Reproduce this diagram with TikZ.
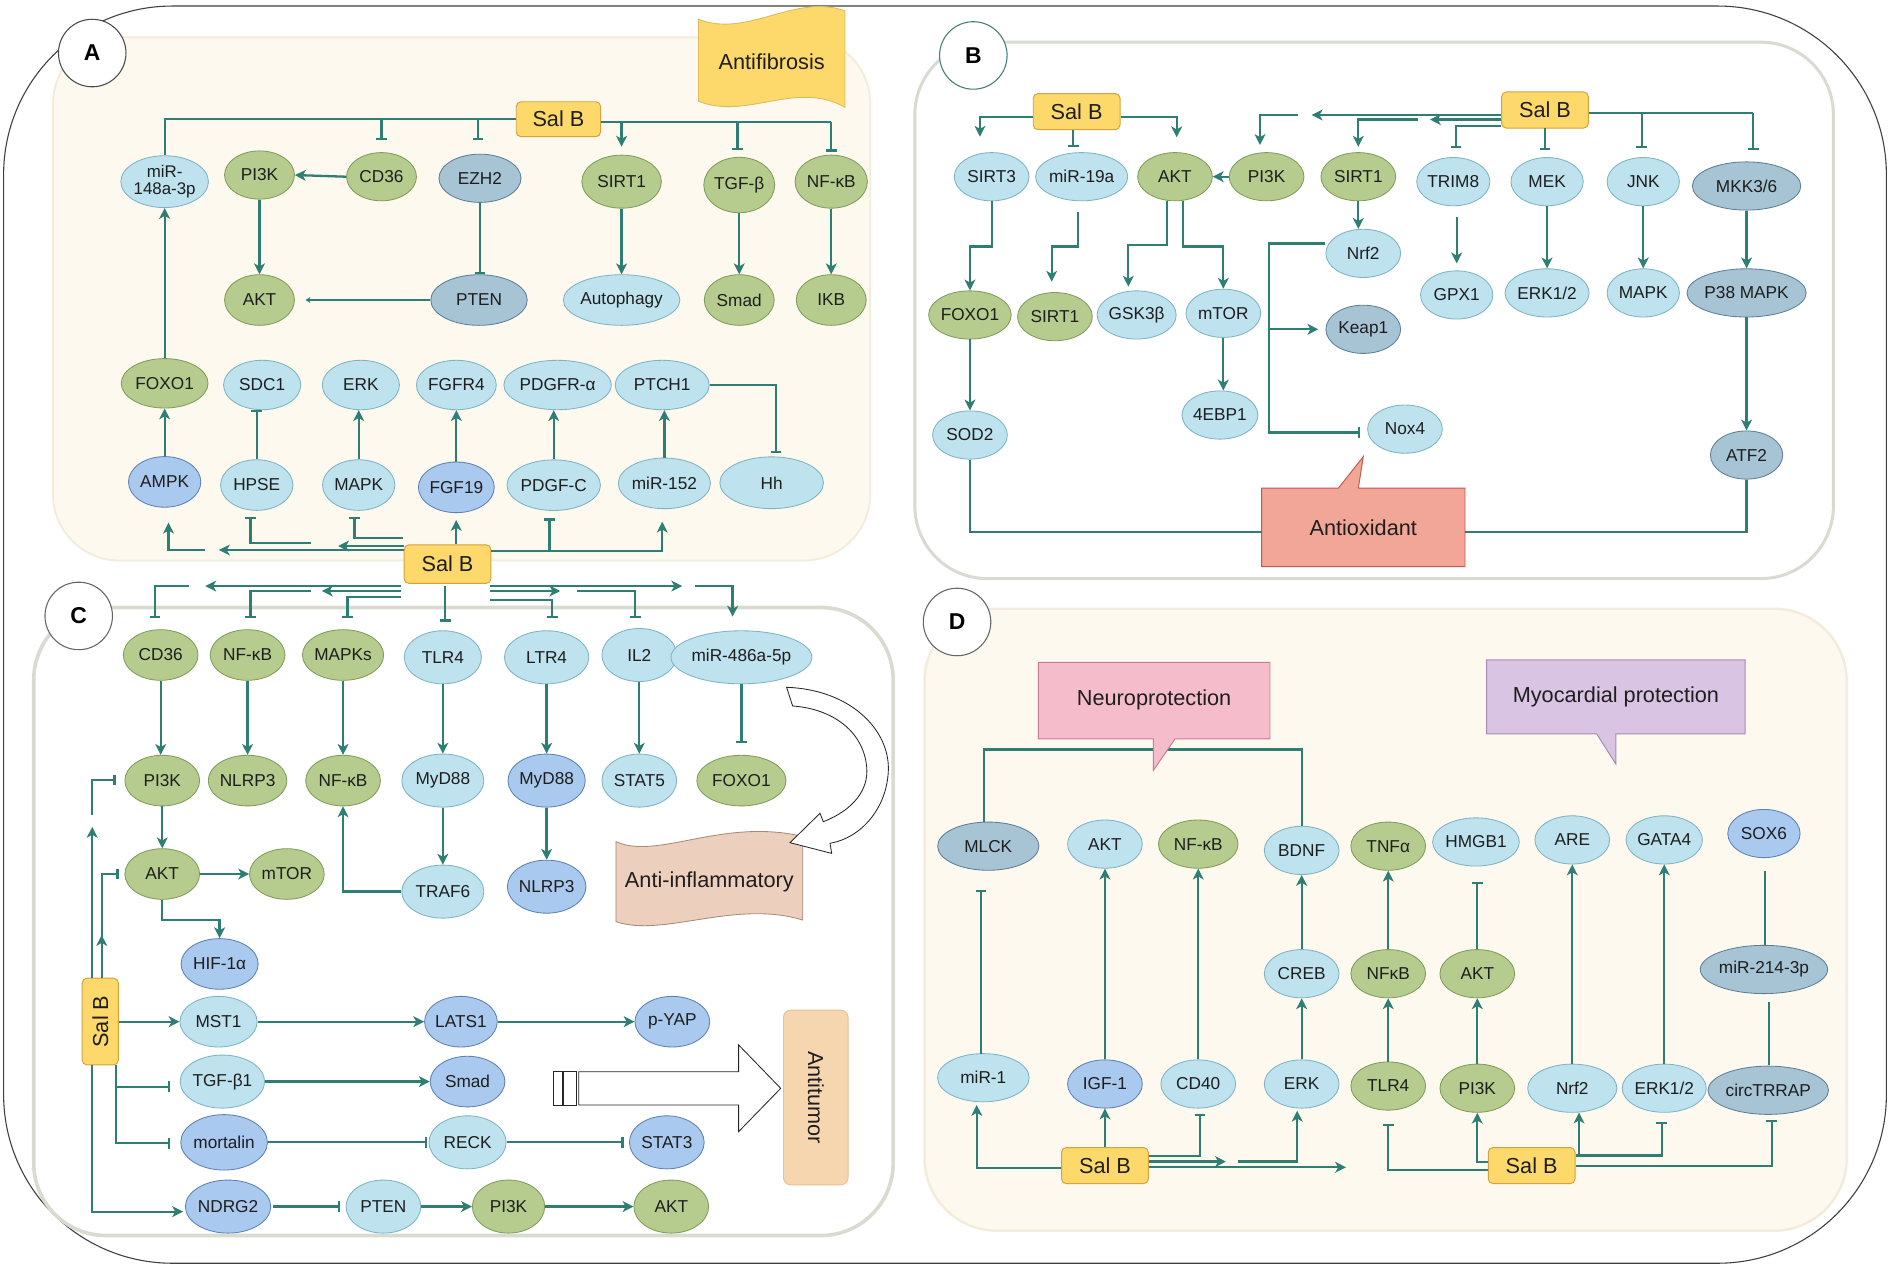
\documentclass[tikz,border=0pt]{standalone}
\usepackage{fontspec}
\setmainfont{Liberation Sans}
\usetikzlibrary{arrows.meta,shapes.geometric}
\definecolor{grF}{HTML}{B5CC8E}
\definecolor{grD}{HTML}{7F9C58}
\definecolor{lbF}{HTML}{BEE2EE}
\definecolor{lbD}{HTML}{7EB3C3}
\definecolor{mbF}{HTML}{AAC9EE}
\definecolor{mbD}{HTML}{5D80B6}
\definecolor{sbF}{HTML}{A7C4D5}
\definecolor{sbD}{HTML}{5E7E97}
\definecolor{lnC}{HTML}{2E7E74}
\definecolor{salF}{HTML}{FDD96B}
\definecolor{salD}{HTML}{D6A13E}
\definecolor{panF}{HTML}{FDF9EF}
\definecolor{panD}{HTML}{F3EBDC}
\definecolor{panG}{HTML}{D8DCD0}
\definecolor{txC}{HTML}{1E1E1E}
\definecolor{oxF}{HTML}{F2A698}
\definecolor{oxD}{HTML}{C2594E}
\definecolor{neF}{HTML}{F5BCCB}
\definecolor{neD}{HTML}{C97B96}
\definecolor{myF}{HTML}{DAC4E3}
\definecolor{myD}{HTML}{A48BB6}
\definecolor{inF}{HTML}{EDCFBD}
\definecolor{inD}{HTML}{A68B7B}
\definecolor{tuF}{HTML}{F6D6AE}
\definecolor{tuD}{HTML}{E5C095}
\definecolor{fiF}{HTML}{FDD96B}
\definecolor{fiD}{HTML}{DDB95A}
\newcommand{\ndf}{\fontsize{14.3}{15}\selectfont}
\newcommand{\bgf}{\fontsize{18}{20}\selectfont}
\begin{document}
\begin{tikzpicture}[x=1pt,y=-1pt,
  nd/.style={ellipse, draw, line width=0.7pt, inner sep=0pt, font=\ndf, text=txC},
  sz/.style 2 args={minimum width={2*#1}, minimum height={2*#2}},
  gr/.style={nd, fill=grF, draw=grD},
  lb/.style={nd, fill=lbF, draw=lbD},
  mb/.style={nd, fill=mbF, draw=mbD},
  sb/.style={nd, fill=sbF, draw=sbD},
  salb/.style={draw=salD, fill=salF, rounded corners=4pt, line width=0.8pt, font=\bgf, text=txC, minimum width=72pt, minimum height=30pt, inner sep=0pt},
  ln/.style={draw=lnC, line width=1.9pt},
  ar/.style={ln, -{Stealth[length=9pt,width=9pt,inset=2.5pt]}},
  tb/.style={ln, -{Bar[width=9pt]}},
  lab/.style={circle, draw=#1, fill=white, line width=0.9pt, minimum size=56pt, inner sep=0pt, font=\fontsize{19}{21}\selectfont\bfseries},
  eff/.style={font=\bgf, text=txC, inner sep=0pt},
]
\useasboundingbox (0,0) rectangle (1568,1053);
\fill[white] (0,0) rectangle (1568,1053);
% outer frame
\draw[draw=black!75, line width=0.9pt, rounded corners=140pt] (3,5) rectangle (1565,1048);
% panels
\draw[fill=panF, draw=panD, line width=1.5pt, rounded corners=55pt] (44,31) rectangle (722,465);
\draw[fill=white, draw=panG, line width=2.5pt, rounded corners=60pt] (759,35) rectangle (1521,480);
\draw[fill=white, draw=panG, line width=3pt, rounded corners=60pt] (28,504) rectangle (741,1025);
\draw[fill=panF, draw=panD, line width=2pt, rounded corners=60pt] (767,505) rectangle (1532,1021);
% labels
\node[lab=black!70] (labA) at (76.5,44) {A};
\node[lab=lnC!70!gray] (labB) at (807.5,46) {B};
\node[lab=black!60] (labC) at (65.3,511) {C};
\node[lab=black!60] (labD) at (794,516) {D};

%%%%%%%%%%%%%%%% PANEL A
\draw[fill=fiF, draw=fiD, line width=0.7pt] (579.5,16) .. controls (620,32) and (660,-6) .. (701,9) -- (701,89) .. controls (660,66) and (620,100) .. (579.5,84) -- cycle;
\node[eff] (fib) at (640.2,51) {Antifibrosis};
\node[salb, minimum width=70pt, minimum height=29pt] (a_sal) at (463.3,98.9) {Sal B};
\node[lb, sz={36}{21.5}, align=center, font=\fontsize{14}{14}\selectfont] (a_mir148) at (136.6,150.7) {miR-\\148a-3p};
\node[gr, sz={29}{20}] (a_pi3k) at (215.3,145.2) {PI3K};
\node[gr, sz={29}{20}] (a_cd36) at (316.5,146.6) {CD36};
\node[sb, sz={34}{20}] (a_ezh2) at (398.2,147.9) {EZH2};
\node[gr, sz={33}{22}] (a_sirt1) at (515.7,150.7) {SIRT1};
\node[gr, sz={29}{23}] (a_tgfb) at (613.3,153.5) {TGF-β};
\node[gr, sz={30}{22}] (a_nfkb) at (689.6,150.7) {NF-κB};
\node[gr, sz={29}{21}] (a_akt) at (215.3,248.9) {AKT};
\node[sb, sz={40}{21}] (a_pten) at (397.4,248.9) {PTEN};
\node[lb, sz={46}{21}] (a_auto) at (515.7,248.9) {Autophagy};
\node[gr, sz={29}{21}] (a_smad) at (613.3,248.9) {Smad};
\node[gr, sz={29}{21}] (a_ikb) at (689.6,248.9) {IKB};
\node[gr, sz={36}{20.5}] (a_foxo) at (136.6,318) {FOXO1};
\node[lb, sz={32}{20.5}] (a_sdc1) at (217.5,319.4) {SDC1};
\node[lb, sz={32}{20.5}] (a_erk) at (299.4,319.4) {ERK};
\node[lb, sz={32}{20.5}] (a_fgfr4) at (378.6,319.4) {FGFR4};
\node[lb, sz={39}{20.5}] (a_pdgfra) at (462.6,319.4) {PDGFR-α};
\node[lb, sz={39}{20.5}] (a_ptch1) at (549.4,319.4) {PTCH1};
\node[mb, sz={30}{21}] (a_ampk) at (136.6,399.8) {AMPK};
\node[lb, sz={30}{21}] (a_hpse) at (213,402.4) {HPSE};
\node[lb, sz={30}{21}] (a_mapk) at (297.6,402.4) {MAPK};
\node[mb, sz={31}{21}] (a_fgf19) at (378.6,404.3) {FGF19};
\node[lb, sz={35}{21}] (a_pdgfc) at (459.4,402.5) {PDGF-C};
\node[lb, sz={38}{21}] (a_mir152) at (551.2,401) {miR-152};
\node[lb, sz={43}{21.5}] (a_hh) at (640.2,400.5) {Hh};
% A top connectors
\draw[ln] (a_sal.west) -| (a_mir148.north);
\draw[tb] (316.5,98.9) -- (316.5,116.1);
\draw[tb] (396.5,98.9) -- (396.5,116.1);
\draw[ln] (498.4,101) -- (689.6,101);
\draw[ar] (515.7,101) -- (515.7,121.7);
\draw[tb] (611.9,101) -- (611.9,124.4);
\draw[tb] (689.6,101) -- (689.6,125.8);
\draw[ar] (a_pi3k.south) -- (a_akt.north);
\draw[ar] (a_cd36.west) -- (a_pi3k.east);
\draw[tb] (a_ezh2.south) -- (a_ezh2.south |- a_pten.north);
\draw[ln, -{Stealth[length=4pt,width=5pt]}] (a_pten.west) -- (253.5,248.9);
\draw[ar] (a_sirt1.south) -- (a_auto.north);
\draw[ar] (a_tgfb.south) -- (a_smad.north);
\draw[ar] (a_nfkb.south) -- (a_ikb.north);
\draw[ar] (a_foxo.north) -- (a_mir148.south);
\draw[ar] (a_ampk.north) -- (a_foxo.south);
\draw[tb] (a_hpse.north) -- (a_hpse.north |- a_sdc1.south);
\draw[ar] (a_mapk.north) -- (a_mapk.north |- a_erk.south);
\draw[ar] (a_fgf19.north) -- (a_fgf19.north |- a_fgfr4.south);
\draw[ar] (a_pdgfc.north) -- (a_pdgfc.north |- a_pdgfra.south);
\draw[ar] (a_mir152.north) -- (a_mir152.north |- a_ptch1.south);
\draw[tb] (a_ptch1.east) -- (643.8,319.4) -- (643.8,376);

%%%%%%%%%%%%%%%% central Sal B (A / C)
\node[salb, minimum width=72pt, minimum height=32pt] (ac_sal) at (371.3,468) {Sal B};
\draw[ar] (335.3,456.3) -- (181.6,456.3);
\draw[ar] (170.3,456.3) -- (139.8,456.3) -- (139.8,433.6);
\draw[tb] (258,450.7) -- (207.7,450.7) -- (207.7,428.6);
\draw[tb] (334.4,446.6) -- (294,446.6) -- (294,428.6);
\draw[ar] (335.3,453) -- (280.5,453);
\draw[ar] (ac_sal.north -| 378.5,0) -- (378.5,431.4);
\draw[tb] (455.9,457) -- (455.9,430);
\draw[ar] (407.3,457) -- (549.4,457) -- (549.4,432.8);
% towards C
\draw[ar] (333,486.2) -- (170.3,486.2);
\draw[tb] (156.8,486.2) -- (128.6,486.2) -- (128.6,513);
\draw[ar] (333,490.3) -- (267,490.3);
\draw[tb] (258,490.3) -- (207.8,490.3) -- (207.8,513);
\draw[tb] (333,495) -- (288.3,495) -- (288.3,513);
\draw[tb] (369.4,486) -- (369.4,515.7);
\draw[ar] (406.4,486.2) -- (566,486.2);
\draw[ar] (576.6,486.2) -- (607.8,486.2) -- (607.8,511.6);
\draw[ar] (406.4,490.3) -- (464.8,490.3);
\draw[tb] (478.4,490.3) -- (526.9,490.3) -- (526.9,513);
\draw[tb] (406.4,497.5) -- (458.1,497.5) -- (458.1,513);

%%%%%%%%%%%%%%%% PANEL C
\node[gr, sz={31}{21}] (c_cd36) at (133.3,543.4) {CD36};
\node[gr, sz={31}{21}] (c_nfkb) at (205.4,543.4) {NF-κB};
\node[gr, sz={32}{21}] (c_mapks) at (284.6,543.4) {MAPKs};
\node[lb, sz={32}{22}] (c_tlr4) at (367.4,545.3) {TLR4};
\node[lb, sz={35}{22}] (c_ltr4) at (453.5,545.3) {LTR4};
\node[lb, sz={31}{22}] (c_il2) at (530.4,543.4) {IL2};
\node[lb, sz={47}{22}] (c_mir486) at (615.1,545.3) {miR-486a-5p};
\node[gr, sz={31}{21}] (c_pi3k) at (134.6,647.6) {PI3K};
\node[gr, sz={31}{21}] (c_nlrp3) at (205.4,647.6) {NLRP3};
\node[gr, sz={31}{21}] (c_nfkb2) at (284.6,647.6) {NF-κB};
\node[lb, sz={34}{22}] (c_myd88) at (367.4,647.6) {MyD88};
\node[mb, sz={32}{22}] (c_myd88b) at (453.5,647.6) {MyD88};
\node[lb, sz={31}{22}] (c_stat5) at (530.4,647.6) {STAT5};
\node[gr, sz={37}{21}] (c_foxo) at (615.1,647.6) {FOXO1};
\node[gr, sz={31}{21}] (c_akt) at (134.6,725.1) {AKT};
\node[gr, sz={31}{21}] (c_mtor) at (238,725.1) {mTOR};
\node[lb, sz={34}{22}] (c_traf6) at (367.4,739.7) {TRAF6};
\node[mb, sz={31}{22}] (c_nlrp3b) at (453.5,735.6) {NLRP3};
\node[mb, sz={32}{21}] (c_hif) at (182.2,799.7) {HIF-1α};
\node[lb, sz={32}{21}] (c_mst1) at (181.3,847.6) {MST1};
\node[mb, sz={30}{21}] (c_lats1) at (382.4,847.6) {LATS1};
\node[mb, sz={31}{21}] (c_pyap) at (557.8,847.6) {p-YAP};
\node[lb, sz={32}{22}] (c_tgfb1) at (184.5,897.3) {TGF-β1};
\node[mb, sz={31}{21}] (c_smad) at (387.9,897.3) {Smad};
\node[mb, sz={34}{23}] (c_mort) at (185.9,947.7) {mortalin};
\node[lb, sz={32}{22}] (c_reck) at (387.9,947.7) {RECK};
\node[mb, sz={31}{22}] (c_stat3) at (553.2,947.7) {STAT3};
\node[mb, sz={30}{22}] (c_ndrg2) at (189.2,1001) {NDRG2};
\node[lb, sz={31}{22}] (c_pten) at (318.1,1001) {PTEN};
\node[gr, sz={30}{22}] (c_pi3k2) at (421.9,1001) {PI3K};
\node[gr, sz={31}{22}] (c_akt2) at (556.9,1001) {AKT};
\node[salb, rotate=90, minimum width=72pt, minimum height=30pt] (c_sal) at (83.2,847.5) {Sal B};
% C connectors
\draw[ar] (c_cd36.south) -- (c_cd36.south |- c_pi3k.north);
\draw[ar] (c_nfkb.south) -- (c_nlrp3.north);
\draw[ar] (c_mapks.south) -- (c_nfkb2.north);
\draw[ar] (c_tlr4.south) -- (c_myd88.north);
\draw[ar] (c_ltr4.south) -- (c_myd88b.north);
\draw[ar] (c_il2.south) -- (c_stat5.north);
\draw[tb] (c_mir486.south) -- (615.1,616.6);
\draw[ar] (c_pi3k.south) -- (c_akt.north);
\draw[ar] (c_akt.east) -- (c_mtor.west);
\draw[ar] (c_akt.south) |- (182.2,763.2) -- (c_hif.north);
\draw[ar] (c_myd88.south) -- (c_traf6.north);
\draw[ar] (c_traf6.west) -| (c_nfkb2.south);
\draw[ar] (c_myd88b.south) -- (c_nlrp3b.north);
\draw[ar] (98.4,847.6) -- (c_mst1.west);
\draw[ar] (c_mst1.east) -- (c_lats1.west);
\draw[ar] (c_lats1.east) -- (c_pyap.west);
\draw[tb] (96.1,883.5) |- (141.2,901.5);
\draw[tb] (96.1,883.5) |- (141.2,948.5);
\draw[ar] (76.5,883.5) |- (151.9,1005.2);
\draw[ar] (76.5,811.5) -- (76.5,686);
\draw[tb] (76.5,676) |- (96,647.1);
\draw[ar] (84.4,811.5) -- (84.4,775.7);
\draw[tb] (84.4,790) |- (98.4,725.1);
\draw[ar] (c_tgfb1.east) -- (c_smad.west);
\draw[tb] (c_mort.east) -- (354.4,947.7);
\draw[tb] (c_reck.east) -- (517.4,947.7);
\draw[tb] (226.4,1001) -- (282.2,1001);
\draw[ar] (c_pten.east) -- (c_pi3k2.west);
\draw[ar] (c_pi3k2.east) -- (c_akt2.west);
% anti-inflammatory
\draw[fill=inF, draw=inD, line width=0.7pt] (511,698.2) .. controls (545,714) and (600,678) .. (666,694) -- (666,763.3) .. controls (610,746) and (550,778) .. (511,764.6) -- cycle;
\node[eff] (c_inf) at (588.5,731.5) {Anti-inflammatory};
\draw[fill=white, draw=black!85, line width=0.7pt] (652.6,570.2) .. controls (705,572) and (738,605) .. (737,638.8) .. controls (736,670) and (715,695) .. (688.6,699.6) -- (690,708) -- (655.4,699.1) -- (680.3,674.7) -- (683,681.7) .. controls (708,672) and (721,655) .. (719,636) .. controls (716,606) and (690,588) .. (657.6,585.7) -- cycle;
% antitumor
\draw[fill=white, draw=black!85, line width=0.7pt] (480.1,889.1) -- (612.8,889.1) -- (612.8,866.9) -- (647.7,902.9) -- (612.8,938.8) -- (612.8,916.7) -- (480.1,916.7) -- cycle;
\draw[fill=white, draw=black!85, line width=0.7pt] (459.2,889.1) rectangle (466.2,916.7);
\draw[fill=white, draw=black!85, line width=0.7pt] (467.5,889.1) rectangle (477.8,916.7);
\node[draw=tuD, fill=tuF, rounded corners=6pt, line width=0.7pt, minimum width=145pt, minimum height=53.6pt, rotate=-90, font=\bgf, text=txC] (c_tum) at (676.8,910.5) {Antitumor};

%%%%%%%%%%%%%%%% PANEL B
\node[salb] (b_sal1) at (893.2,92.6) {Sal B};
\node[salb] (b_sal2) at (1281.8,91.3) {Sal B};
\node[lb, sz={31}{20}] (b_sirt3) at (822.7,146.6) {SIRT3};
\node[lb, sz={37}{20}] (b_mir19) at (897.4,146.6) {miR-19a};
\node[gr, sz={31}{20}] (b_akt) at (974.8,146.6) {AKT};
\node[gr, sz={31}{20}] (b_pi3k) at (1050.8,146.6) {PI3K};
\node[gr, sz={31}{20}] (b_sirt1) at (1126.9,146.6) {SIRT1};
\node[lb, sz={31}{20}] (b_nrf2) at (1131,210.2) {Nrf2};
\node[sb, sz={31}{20}] (b_keap1) at (1131,273.2) {Keap1};
\node[gr, sz={31}{20}] (b_foxo) at (804.7,261.3) {FOXO1};
\node[gr, sz={31}{20}] (b_sirt1b) at (875.2,262.7) {SIRT1};
\node[lb, sz={31}{20}] (b_gsk) at (943,261.3) {GSK3β};
\node[lb, sz={31}{20}] (b_mtor) at (1014.9,259.9) {mTOR};
\node[lb, sz={31}{20}] (b_4ebp1) at (1012.1,344.3) {4EBP1};
\node[lb, sz={31}{20}] (b_sod2) at (804.7,360.9) {SOD2};
\node[lb, sz={31}{20}] (b_nox4) at (1165.6,356) {Nox4};
\node[lb, sz={30}{20}] (b_trim8) at (1205.7,150.7) {TRIM8};
\node[lb, sz={30}{20}] (b_mek) at (1283.5,150.7) {MEK};
\node[lb, sz={30}{20}] (b_jnk) at (1363.3,150.7) {JNK};
\node[sb, sz={45}{20}] (b_mkk) at (1449,154.3) {MKK3/6};
\node[lb, sz={30}{20}] (b_gpx1) at (1208.5,244.7) {GPX1};
\node[lb, sz={30}{20}] (b_erk12) at (1283.5,243) {ERK1/2};
\node[lb, sz={30}{20}] (b_mapk) at (1363.3,243) {MAPK};
\node[sb, sz={45}{20}] (b_p38) at (1449,243) {P38 MAPK};
\node[sb, sz={30}{20}] (b_atf2) at (1449,377.5) {ATF2};
% B connectors
\draw[ar] (b_sal1.west |- 0,96.8) -- (813,96.8) -- (813,113.4);
\draw[tb] (890.4,107.9) -- (890.4,122.2);
\draw[ar] (b_sal1.east |- 0,96.8) -- (976.2,96.8) -- (976.2,113.9);
\draw[ar] (b_sal2.west |- 0,95.4) -- (1088.2,95.4);
\draw[ar] (1077.1,95.4) -- (1045.3,95.4) -- (1045.3,120.3);
\draw[ar] (b_sal2.west |- 0,99.2) -- (1186.3,99.2);
\draw[ar] (1176.7,99.2) -- (1126.9,99.2) -- (1126.9,121.7);
\draw[tb] (b_sal2.west |- 0,104.3) -- (1207.9,104.3) -- (1207.9,123.1);
\draw[tb] (1281.7,106.5) -- (1281.7,124.4);
\draw[ln] (b_sal2.east |- 0,94) -- (1454.6,94);
\draw[tb] (1362,94) -- (1362,123.1);
\draw[tb] (1454.6,94) -- (1454.6,124.4);
\draw[ar] (b_pi3k.west) -- (b_akt.east);
\draw[ar] (b_sirt3.south) |- (804.7,204.6) -- (b_foxo.north);
\draw[ar] (894.6,175.6) |- (872.5,204.6) -- (872.5,233.7);
\draw[ar] (967.9,166.6) |- (936.1,203.3) -- (936.1,237.8);
\draw[ar] (981.7,166.6) |- (1014.9,204.6) -- (b_mtor.north);
\draw[ar] (b_mtor.south) -- (b_mtor.south |- b_4ebp1.north);
\draw[ar] (b_foxo.south) -- (b_sod2.north);
\draw[ar] (b_sirt1.south) -- (b_sirt1.south |- b_nrf2.north);
\draw[tb] (b_nrf2.west |- 0,201.9) -- (1053,201.9) -- (1053,358.9) -- (1128.3,358.9);
\draw[ar] (1053,273.2) -- (1093.7,273.2);
\draw[ar] (1208.5,179.8) -- (1208.5,218.5);
\draw[ar] (b_mek.south) -- (b_erk12.north);
\draw[ar] (b_jnk.south) -- (b_mapk.north);
\draw[ar] (b_mkk.south) -- (b_p38.north);
\draw[ar] (b_p38.south) -- (b_atf2.north);
\draw[fill=oxF, draw=oxD, line width=0.8pt] (1046.7,405) -- (1110.3,405) -- (1131,378.9) -- (1126.9,405) -- (1215.4,405) -- (1215.4,470) -- (1046.7,470) -- cycle;
\node[eff] (b_ox) at (1131,437.5) {Antioxidant};
\draw[ln] (b_sod2.south) |- (1046.7,441.1);
\draw[ln] (b_atf2.south) |- (1215.4,441.1);

%%%%%%%%%%%%%%%% PANEL D
\node[salb] (d_sal1) at (916.7,967) {Sal B};
\node[salb] (d_sal2) at (1270.7,967) {Sal B};
\node[sb, sz={42}{20}] (d_mlck) at (819.9,702) {MLCK};
\node[lb, sz={31}{20}] (d_akt) at (916.7,700.3) {AKT};
\node[gr, sz={33}{20}] (d_nfkb) at (994.1,700.3) {NF-κB};
\node[lb, sz={31}{20}] (d_bdnf) at (1079.9,705.5) {BDNF};
\node[gr, sz={31}{20}] (d_tnfa) at (1151.7,702) {TNFα};
\node[lb, sz={31}{20}] (d_hmgb1) at (1224.5,698.5) {HMGB1};
\node[lb, sz={31}{20}] (d_are) at (1304.4,696.8) {ARE};
\node[lb, sz={31}{20}] (d_gata4) at (1380.7,696.8) {GATA4};
\node[mb, sz={30}{20}] (d_sox6) at (1463.4,691.5) {SOX6};
\node[lb, sz={31}{20}] (d_creb) at (1079.9,807.8) {CREB};
\node[gr, sz={31}{20}] (d_nfkb2) at (1151.7,807.8) {NFκB};
\node[gr, sz={31}{20}] (d_akt2) at (1225.6,807.8) {AKT};
\node[sb, sz={49}{20}] (d_mir214) at (1463.4,804.3) {miR-214-3p};
\node[lb, sz={38}{20}] (d_mir1) at (815.8,894.1) {miR-1};
\node[mb, sz={31}{20}] (d_igf1) at (916.7,899.3) {IGF-1};
\node[lb, sz={31}{20}] (d_cd40) at (994.1,899.3) {CD40};
\node[lb, sz={31}{20}] (d_erk) at (1079.9,899.3) {ERK};
\node[gr, sz={31}{20}] (d_tlr4) at (1151.7,901) {TLR4};
\node[gr, sz={31}{20}] (d_pi3k) at (1225.6,902.8) {PI3K};
\node[lb, sz={37}{20}] (d_nrf2) at (1304.4,902.8) {Nrf2};
\node[lb, sz={31}{20}] (d_erk12) at (1380.7,902.8) {ERK1/2};
\node[sb, sz={47}{20}] (d_circ) at (1467,904.5) {circTRRAP};
% D connectors
\draw[ar] (d_sal1.west |- 0,969.2) -| (810.3,916.7);
\draw[ar] (d_sal1.north) -- (d_igf1.south);
\draw[tb] (d_sal1.east |- 0,959) -| (995.5,923.8);
\draw[ar] (d_sal1.east |- 0,963.7) -- (1017.1,963.7);
\draw[ar] (1027.3,963.7) -| (1076.2,921.5);
\draw[ar] (d_sal1.east |- 0,968.4) -- (1116.7,968.4);
\draw[tb] (813.8,874) -- (813.8,738);
\draw[ar] (d_igf1.north) -- (d_akt.south);
\draw[ar] (d_cd40.north) -- (d_nfkb.south);
\draw[ar] (d_erk.north) -- (d_creb.south);
\draw[ar] (d_creb.north) -- (d_bdnf.south);
\draw[ar] (d_tlr4.north) -- (d_nfkb2.south);
\draw[ar] (d_nfkb2.north) -- (d_tnfa.south);
\draw[ln] (816.6,682) -- (816.6,621.7) -- (1079.9,621.7) -- (d_bdnf.north);
\draw[tb] (d_sal2.west |- 0,970.9) -| (1151.7,932.5);
\draw[ar] (d_sal2.west |- 0,963.9) -| (d_pi3k.south);
\draw[ar] (d_sal2.east |- 0,958.7) -| (1310,923);
\draw[tb] (1310,958.7) -| (1378.6,930.7);
\draw[tb] (d_sal2.east |- 0,967.3) -| (1469.8,929);
\draw[ar] (d_pi3k.north) -- (d_akt2.south);
\draw[tb] (d_akt2.north) -- (1225.6,731.7);
\draw[ar] (1304.4,882.8) -- (d_are.south);
\draw[ar] (d_erk12.north) -- (d_gata4.south);
\draw[ln] (1467.5,883.5) -- (1467.5,831.2);
\draw[ln] (1464,784.1) -- (1464,723);
\draw[fill=neF, draw=neD, line width=0.8pt] (861.4,549.5) -- (1053.6,549.5) -- (1053.6,613) -- (974.8,613) -- (956.8,639.2) -- (956.8,613) -- (861.4,613) -- cycle;
\node[eff] (d_neuro) at (957.5,581) {Neuroprotection};
\draw[fill=myF, draw=myD, line width=0.8pt] (1233.4,547.4) -- (1447.7,547.4) -- (1447.7,608.8) -- (1340.6,608.8) -- (1340.6,633.9) -- (1324.6,608.8) -- (1233.4,608.8) -- cycle;
\node[eff] (d_myo) at (1340.6,578) {Myocardial protection};
\end{tikzpicture}
\end{document}
